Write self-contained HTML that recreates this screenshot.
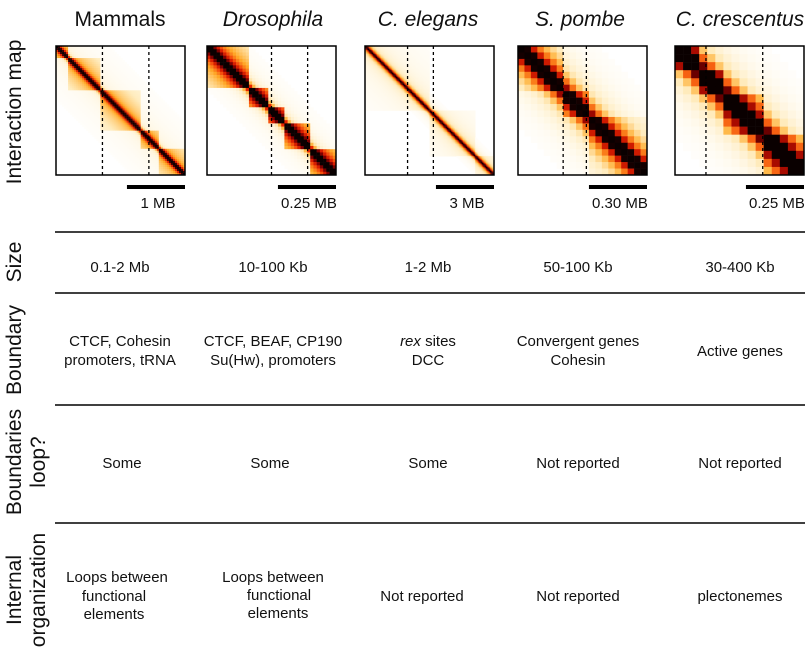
<!DOCTYPE html>
<html><head><meta charset="utf-8">
<style>
body{margin:0;background:#fff;width:809px;height:660px;overflow:hidden;font-family:"Liberation Sans",sans-serif;}
svg text{font-family:"Liberation Sans",sans-serif;fill:#111;}
</style></head>
<body>
<svg id="fig" width="809" height="660" xmlns="http://www.w3.org/2000/svg">
  <g font-size="21" text-anchor="middle">
    <text x="120" y="26">Mammals</text>
    <text x="273" y="26" font-style="italic">Drosophila</text>
    <text x="428" y="26" font-style="italic">C. elegans</text>
    <text x="580" y="26" font-style="italic">S. pombe</text>
    <text x="740" y="26" font-style="italic">C. crescentus</text>
  </g>
  <g font-size="21" text-anchor="middle">
    <text transform="translate(21,112) rotate(-90)">Interaction map</text>
    <text transform="translate(21,262) rotate(-90)">Size</text>
    <text transform="translate(21,350) rotate(-90)">Boundary</text>
    <text transform="translate(21,462) rotate(-90)">Boundaries</text>
    <text transform="translate(45,462) rotate(-90)">loop?</text>
    <text transform="translate(21,590) rotate(-90)">Internal</text>
    <text transform="translate(45,590) rotate(-90)">organization</text>
  </g>
  <g stroke="#000" stroke-width="1.5">
    <line x1="55" y1="232" x2="805" y2="232"/>
    <line x1="55" y1="293" x2="805" y2="293"/>
    <line x1="55" y1="405" x2="805" y2="405"/>
    <line x1="55" y1="523" x2="805" y2="523"/>
  </g>
  <g font-size="15" text-anchor="middle">
    <text x="120" y="272">0.1-2 Mb</text>
    <text x="273" y="272">10-100 Kb</text>
    <text x="428" y="272">1-2 Mb</text>
    <text x="578" y="272">50-100 Kb</text>
    <text x="740" y="272">30-400 Kb</text>
    <text x="120" y="346">CTCF, Cohesin</text>
    <text x="120" y="365">promoters, tRNA</text>
    <text x="273" y="346">CTCF, BEAF, CP190</text>
    <text x="273" y="365">Su(Hw), promoters</text>
    <text x="428" y="346"><tspan font-style="italic">rex</tspan> sites</text>
    <text x="428" y="365">DCC</text>
    <text x="578" y="346">Convergent genes</text>
    <text x="578" y="365">Cohesin</text>
    <text x="740" y="356">Active genes</text>
    <text x="122" y="468">Some</text>
    <text x="270" y="468">Some</text>
    <text x="428" y="468">Some</text>
    <text x="578" y="468">Not reported</text>
    <text x="740" y="468">Not reported</text>
    <text x="117" y="582">Loops between</text>
    <text x="114" y="601">functional</text>
    <text x="114" y="619">elements</text>
    <text x="273" y="582">Loops between</text>
    <text x="279" y="600">functional</text>
    <text x="278" y="618">elements</text>
    <text x="422" y="601">Not reported</text>
    <text x="578" y="601">Not reported</text>
    <text x="740" y="601">plectonemes</text>
  </g>
  <g id="maps"></g>
</svg>
<script>
// Per-species map data
const speciesNames = ["mammals","drosophila","c-elegans","s-pombe","c-crescentus"];
const mapX = [56,207,365,518,675];
const mapSize = 129;
const mapY = 46;
const gridN = [64,40,96,20,16];
const decay = [1.2,1.5,1.6,1.7,1.6];
const tadBounds = [[0,0.1,0.35,0.65,0.8,1],[0,0.33,0.47,0.6,0.8,1],[0,0.5,0.85,1],[0,0.35,0.55,1],[0,0.2,0.4,0.7,1]];
const tadStrength = [0.33,0.55,0.12,0.25,0.35];
const diagStrength = [1.15,0.95,0.9,0.9,1.1];
const spreadAmt = [0.12,0.15,0.3,0.35,0.35];
const spreadLen = [0.2,0.15,0.05,0.2,0.22];
const dashPos = [[0.36,0.72],[0.5,0.78],[0.33,0.53],[0.35,0.53],[0.24,0.68]];
const scaleLabels = ["1 MB","0.25 MB","3 MB","0.30 MB","0.25 MB"];
const scaleFrac = [0.45,0.45,0.45,0.45,0.45];

function cmap(v){
  v=Math.max(0,Math.min(1,v));
  const stops=[[0,255,255,255],[0.2,255,236,190],[0.4,255,170,40],[0.6,240,40,0],[0.8,140,0,0],[1,10,0,0]];
  for(let k=1;k<stops.length;k++){
    if(v<=stops[k][0]){
      const a=stops[k-1],b=stops[k],t=(v-a[0])/(b[0]-a[0]);
      return `rgb(${Math.round(a[1]+(b[1]-a[1])*t)},${Math.round(a[2]+(b[2]-a[2])*t)},${Math.round(a[3]+(b[3]-a[3])*t)})`;
    }
  }
  return "rgb(10,0,0)";
}
function tadOf(f,b){for(let k=0;k<b.length-1;k++){if(f>=b[k]&&f<b[k+1])return k;}return b.length-2;}

const NS="http://www.w3.org/2000/svg";
const maps=document.getElementById("maps");
speciesNames.forEach((sp,s)=>{
  const g=document.createElementNS(NS,"g");
  
  
  const n=gridN[s], cs=mapSize/n;
  for(let i=0;i<n;i++){
    for(let j=0;j<n;j++){
      const d=Math.abs(i-j);
      const fi=(i+0.5)/n, fj=(j+0.5)/n;
      let v=diagStrength[s]*Math.exp(-d/decay[s]);
      if(tadOf(fi,tadBounds[s])===tadOf(fj,tadBounds[s])) v+=tadStrength[s]*Math.exp(-d/(n*0.3));
      v+=spreadAmt[s]*Math.exp(-d/(n*spreadLen[s]));
      if(v<0.015) continue;
      const r=document.createElementNS(NS,"rect");
      
      
      r.setAttribute("x",(mapX[s]+j*cs).toFixed(2));
      r.setAttribute("y",(mapY+i*cs).toFixed(2));
      r.setAttribute("width",(cs+0.3).toFixed(2));
      r.setAttribute("height",(cs+0.3).toFixed(2));
      r.setAttribute("fill",cmap(v));
      g.appendChild(r);
    }
  }
  dashPos[s].forEach(p=>{
    const l=document.createElementNS(NS,"line");
    
    
    const x=mapX[s]+p*mapSize;
    l.setAttribute("x1",x);l.setAttribute("x2",x);
    l.setAttribute("y1",mapY);l.setAttribute("y2",mapY+mapSize);
    l.setAttribute("stroke","#000");l.setAttribute("stroke-width","1.3");
    l.setAttribute("stroke-dasharray","3,3");
    g.appendChild(l);
  });
  const fr=document.createElementNS(NS,"rect");
  
  
  fr.setAttribute("x",mapX[s]);fr.setAttribute("y",mapY);
  fr.setAttribute("width",mapSize);fr.setAttribute("height",mapSize);
  fr.setAttribute("fill","none");fr.setAttribute("stroke","#000");fr.setAttribute("stroke-width","1.5");
  g.appendChild(fr);
  const bw=mapSize*scaleFrac[s], bx=mapX[s]+mapSize-bw;
  const bar=document.createElementNS(NS,"rect");
  
  
  bar.setAttribute("x",bx);bar.setAttribute("y",185);
  bar.setAttribute("width",bw);bar.setAttribute("height",4);
  bar.setAttribute("fill","#000");
  g.appendChild(bar);
  const t=document.createElementNS(NS,"text");
  
  
  t.setAttribute("x",bx+bw/2+2);t.setAttribute("y",208);
  t.setAttribute("text-anchor","middle");t.setAttribute("font-size","15");
  t.textContent=scaleLabels[s];
  g.appendChild(t);
  maps.appendChild(g);
});
</script>
</body></html>
